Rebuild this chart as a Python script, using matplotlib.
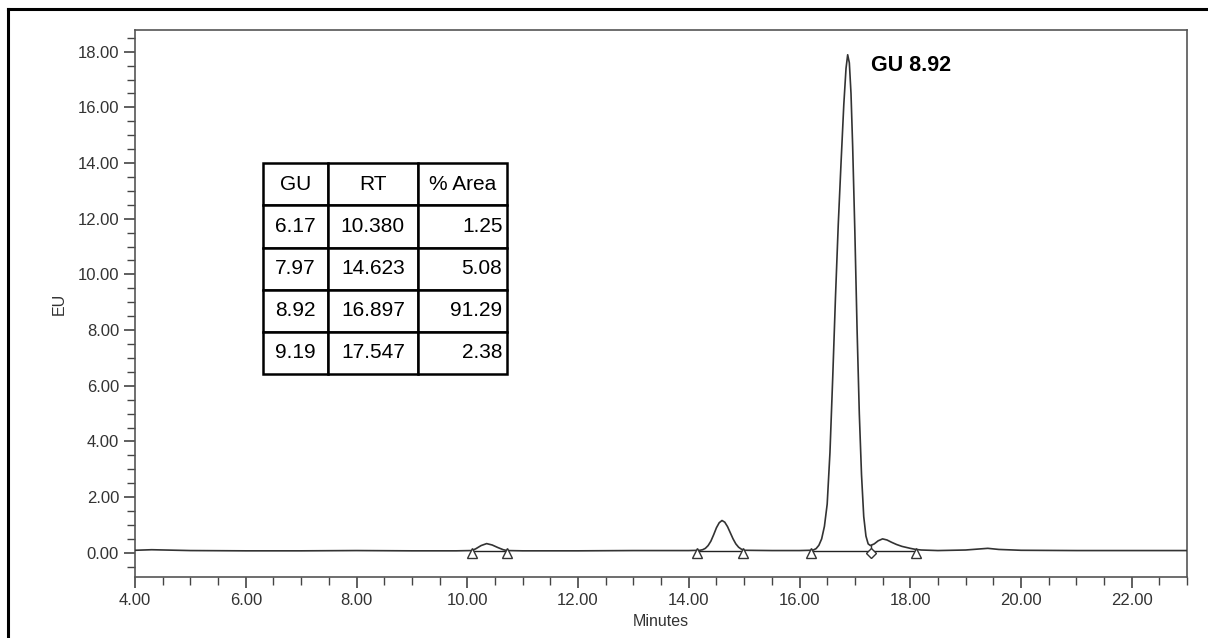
import matplotlib
matplotlib.use('Agg')
import matplotlib.pyplot as plt
from matplotlib.ticker import MultipleLocator, FormatStrFormatter
from matplotlib.lines import Line2D

plt.rcParams['font.family'] = ['Liberation Sans', 'DejaVu Sans']

# trace (minutes, EU)
time_min = [4.0, 4.3, 5.0, 6.0, 7.0, 8.0, 9.0, 9.8, 10.08,
            10.15, 10.25, 10.35, 10.45, 10.55, 10.65, 10.72,
            11.0, 12.0, 13.0, 14.0, 14.2,
            14.25, 14.3, 14.35, 14.4, 14.45, 14.5, 14.55, 14.6, 14.65, 14.7,
            14.75, 14.8, 14.85, 14.9, 14.95, 15.0,
            15.5, 16.0, 16.2, 16.25, 16.3, 16.35, 16.4, 16.45, 16.5, 16.55,
            16.6, 16.65, 16.7, 16.75, 16.8, 16.84, 16.87, 16.9, 16.93, 16.96,
            17.0, 17.04, 17.08, 17.12, 17.16, 17.2, 17.24, 17.28,
            17.35, 17.42, 17.5, 17.58, 17.66, 17.75, 17.85, 18.0, 18.1, 18.2,
            18.5, 19.0, 19.2, 19.4, 19.6, 20.0, 21.0, 22.0, 23.0]
signal_eu = [0.09, 0.11, 0.08, 0.07, 0.07, 0.08, 0.07, 0.07, 0.08,
             0.14, 0.26, 0.33, 0.28, 0.19, 0.11, 0.08,
             0.07, 0.07, 0.08, 0.08, 0.09,
             0.11, 0.16, 0.26, 0.42, 0.65, 0.9, 1.08, 1.16, 1.1, 0.94,
             0.72, 0.5, 0.32, 0.2, 0.13, 0.09,
             0.08, 0.08, 0.09, 0.1, 0.15, 0.27, 0.5, 0.95, 1.75, 3.6,
             6.3, 9.2, 11.8, 14.0, 16.1, 17.4, 17.89, 17.6, 16.5, 14.6,
             11.5, 8.0, 5.0, 2.8, 1.3, 0.6, 0.32, 0.26,
             0.32, 0.43, 0.5, 0.46, 0.38, 0.3, 0.23, 0.16, 0.12, 0.1,
             0.08, 0.1, 0.13, 0.16, 0.12, 0.09, 0.08, 0.08, 0.08]

# peak start/end marks
tri_x = [10.08, 10.72, 14.15, 14.98, 16.21, 18.11]
diamond_x = [17.30]
mark_y = 0.0
baseline_segments = [(10.08, 10.72), (14.15, 14.98), (16.21, 18.11)]
baseline_y = 0.08

table_header = ['GU', 'RT', '% Area']
gu_values = ['6.17', '7.97', '8.92', '9.19']
rt_values = ['10.380', '14.623', '16.897', '17.547']
area_values = ['1.25', '5.08', '91.29', '2.38']

label_text = 'GU 8.92'

fig = plt.figure(figsize=(12.08, 6.38), dpi=100)
ax = fig.add_axes([0.1118, 0.0956, 0.8709, 0.8574])

ax.plot(time_min, signal_eu, color='#333333', lw=1.2, zorder=3)
for x0, x1 in baseline_segments:
    ax.plot([x0, x1], [baseline_y, baseline_y], color='#222222', lw=1.0, zorder=2)
ax.plot(tri_x, [mark_y] * len(tri_x), linestyle='none', marker='^', ms=7,
        mfc='white', mec='#333333', mew=1.0, zorder=4)
ax.plot(diamond_x, [mark_y] * len(diamond_x), linestyle='none', marker='D', ms=5.5,
        mfc='white', mec='#333333', mew=1.0, zorder=4)
ax.plot([diamond_x[0], diamond_x[0]], [mark_y + 0.12, 0.27], color='#333333', lw=1.0)

ax.set_xlim(4.0, 23.0)
ax.set_ylim(-0.87, 18.78)
ax.xaxis.set_major_locator(MultipleLocator(2))
ax.xaxis.set_minor_locator(MultipleLocator(0.5))
ax.yaxis.set_major_locator(MultipleLocator(2))
ax.yaxis.set_minor_locator(MultipleLocator(0.5))
ax.xaxis.set_major_formatter(FormatStrFormatter('%.2f'))
ax.yaxis.set_major_formatter(FormatStrFormatter('%.2f'))
ax.tick_params(which='both', direction='out', color='#444444', labelcolor='#333333',
               labelsize=12, top=False, right=False)
ax.tick_params(which='major', length=8, width=1.2)
ax.tick_params(which='minor', length=6, width=1.0)
for s in ax.spines.values():
    s.set_color('#555555')
    s.set_linewidth(1.2)

ax.set_xlabel('Minutes', fontsize=11.5, color='#333333', labelpad=4)
ax.set_ylabel('EU', fontsize=11.5, color='#333333', labelpad=8)

ax.text(17.3, 17.5, label_text, fontsize=15.5, fontweight='bold', va='center', ha='left')

cells = [[g, r, a] for g, r, a in zip(gu_values, rt_values, area_values)]
tbl = ax.table(cellText=[table_header] + cells, bbox=[0.122, 0.3711, 0.2314, 0.3852],
               colWidths=[64.4, 90.0, 89.0], cellLoc='center')
tbl.auto_set_font_size(False)
for (r, c), cell in tbl.get_celld().items():
    cell.set_edgecolor('black')
    cell.set_linewidth(1.8)
    cell.get_text().set_fontsize(15)
    if r > 0 and c == 2:
        cell.get_text().set_ha('right')
        cell._loc = 'right'
        cell.PAD = 0.05
    elif r > 0 and c == 0:
        cell._loc = 'left'
        cell.PAD = 0.08

# frame lines around the picture (left and top only are visible)
fig.add_artist(Line2D([0.0069, 0.0069], [0.0, 0.986], transform=fig.transFigure,
                      color='black', lw=2.2))
fig.add_artist(Line2D([0.0069, 1.0], [0.986, 0.986], transform=fig.transFigure,
                      color='black', lw=2.2))

fig.savefig('out.png', dpi=100)
